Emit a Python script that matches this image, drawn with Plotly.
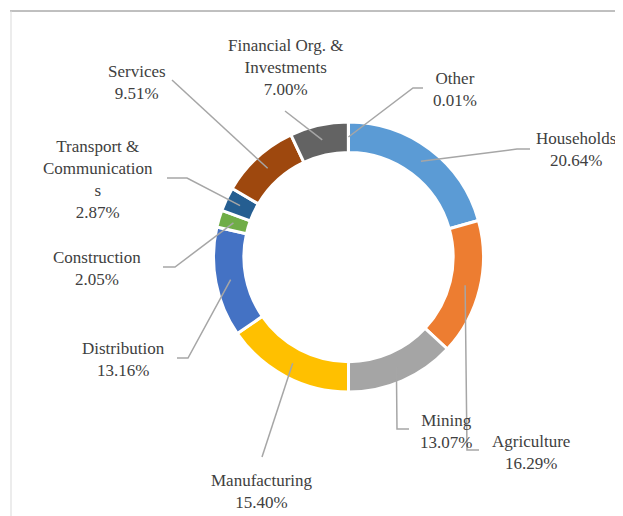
import math
import plotly.graph_objects as go

OFF = 8  # page body margin
W, H = 623 - OFF, 516 - OFF

categories = ["Households", "Agriculture", "Mining", "Manufacturing", "Distribution",
              "Construction", "Transport &<br>Communication<br>s", "Services",
              "Financial Org. &<br>Investments", "Other"]
shares = [20.64, 16.29, 13.07, 15.40, 13.16, 2.05, 2.87, 9.51, 7.00, 0.01]
colors = ["#5B9BD5", "#ED7D31", "#A5A5A5", "#FFC000", "#4472C4",
          "#70AD47", "#255E91", "#9E480E", "#636363", "#997300"]

# layout (pixel, screenshot coords) settings
CX, CY, R_OUT, HOLE = 348.5, 257, 135, 0.775
R_ANCHOR = 120
# label centre positions (px)
label_pos = [(576, 150), (531, 452), (446, 431), (262, 491), (123, 359),
             (97, 268), (98, 179), (137, 83), (285, 67), (455, 90)]
# leader line points after the slice anchor (px)
leader_pts = [[(517, 149), (530, 149)], [(467, 450), (479, 450)], [(397, 429), (409, 429)],
              [(262, 457)], [(188, 358), (177, 358)], [(175, 267), (163, 267)],
              [(187, 178), (167, 178)], [(172, 80)], [(285, 111)], [(413, 88), (423, 88)]]

FONT = "Times New Roman, Liberation Serif, serif"


def px(x):
    return (x - OFF) / W


def py(y):
    return 1 - (y - OFF) / H


fig = go.Figure(go.Pie(
    values=shares, labels=[c.replace("<br>", " ") for c in categories],
    sort=False, direction="clockwise", rotation=0, hole=HOLE,
    marker=dict(colors=colors, line=dict(color="white", width=3)),
    textinfo="none", hoverinfo="label+value", showlegend=False,
    domain=dict(x=[px(CX - R_OUT), px(CX + R_OUT)], y=[py(CY + R_OUT), py(CY - R_OUT)]),
))

total = sum(shares)
cum = 0.0
shapes = []
annotations = []
for cat, v, (lx, ly), pts in zip(categories, shares, label_pos, leader_pts):
    mid = (cum + v / 2) / total * 2 * math.pi
    cum += v
    ax = CX + R_ANCHOR * math.sin(mid)
    ay = CY - R_ANCHOR * math.cos(mid)
    path = f"M {px(ax)} {py(ay)}" + "".join(f" L {px(x)} {py(y)}" for x, y in pts)
    shapes.append(dict(type="path", path=path, xref="paper", yref="paper",
                       line=dict(color="#A6A6A6", width=1.5)))
    annotations.append(dict(x=px(lx), y=py(ly), xref="paper", yref="paper",
                            text=f"{cat}<br>{v:.2f}%", showarrow=False,
                            xanchor="center", yanchor="middle", align="center",
                            font=dict(family=FONT, size=17, color="#404040")))

# chart frame
shapes.append(dict(type="line", xref="paper", yref="paper", x0=px(10), x1=1, y0=py(11), y1=py(11),
                   line=dict(color="#808080", width=1)))
shapes.append(dict(type="line", xref="paper", yref="paper", x0=px(11), x1=px(11), y0=py(11), y1=0,
                   line=dict(color="#D9D9D9", width=1)))

fig.update_layout(
    width=W, height=H, margin=dict(l=0, r=0, t=0, b=0),
    paper_bgcolor="white", plot_bgcolor="white",
    font=dict(family=FONT, size=17, color="#404040"),
    shapes=shapes, annotations=annotations,
)

fig.write_html("out.html")
